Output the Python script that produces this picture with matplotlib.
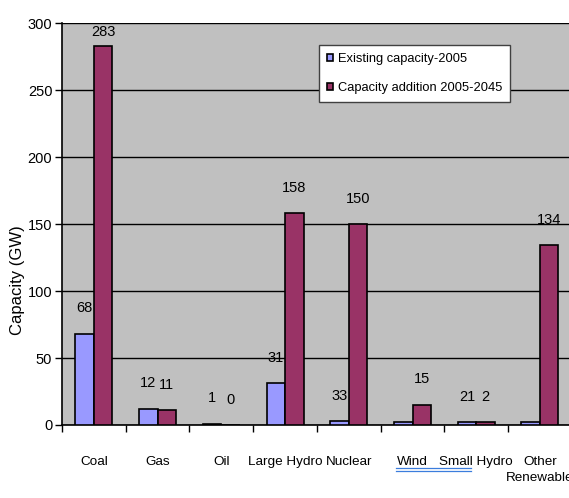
import matplotlib.pyplot as plt
import numpy as np

categories = ["Coal", "Gas", "Oil", "Large Hydro", "Nuclear", "Wind", "Small Hydro", "Other\nRenewable"]
existing_2005 = [68, 12, 1, 31, 3, 2, 2, 2]
addition_2005_2045 = [283, 11, 0, 158, 150, 15, 2, 134]
existing_labels = ["68", "12", "1", "31", "33", "", "21", ""]
addition_labels = ["283", "11", "0", "158", "150", "15", "2", "134"]
yticks = [0, 50, 100, 150, 200, 250, 300]

font = "Liberation Sans"

fig = plt.figure(figsize=(5.69, 4.98), dpi=100)
ax = fig.add_axes([0.109, 0.1466, 0.896, 0.807])
ax.set_facecolor("#C0C0C0")

x = np.arange(len(categories))
w = 0.29
ax.bar(x - w / 2, existing_2005, w, color="#9999FF", edgecolor="black", linewidth=1.2,
       label="Existing capacity-2005", zorder=3)
ax.bar(x + w / 2, addition_2005_2045, w, color="#993366", edgecolor="black", linewidth=1.2,
       label="Capacity addition 2005-2045", zorder=3)

# value labels sit a fixed distance above each bar, kept inside the plot area
for i in range(len(categories)):
    if existing_labels[i]:
        ax.text(x[i] - w / 2, min(existing_2005[i] + 19, 293), existing_labels[i],
                ha="center", va="center", fontsize=10.5, family=font)
    ax.text(x[i] + w / 2, min(addition_2005_2045[i] + 19, 293), addition_labels[i],
            ha="center", va="center", fontsize=10.5, family=font)

ax.set_xlim(-0.5, len(categories) - 0.5)
ax.set_ylim(0, 300)
ax.set_yticks(yticks)
ax.yaxis.grid(True, color="black", linewidth=1.0, zorder=0)
ax.set_axisbelow(True)

ax.set_xticks(x)
ax.set_xticklabels(categories, fontsize=9.7, family=font, va="top", linespacing=1.5)
ax.tick_params(axis="x", length=0, pad=22)
ax.set_xticks(np.arange(len(categories) + 1) - 0.5, minor=True)
ax.tick_params(axis="x", which="minor", length=5, width=1)
ax.tick_params(axis="y", length=5, width=1, labelsize=10.5, pad=2)
for lbl in ax.get_yticklabels():
    lbl.set_family(font)

for s in ["top", "right"]:
    ax.spines[s].set_visible(False)
ax.spines["left"].set_linewidth(1.2)
ax.spines["bottom"].set_linewidth(1.2)

ax.set_ylabel("Capacity (GW)", fontsize=12, family=font)
ax.yaxis.set_label_coords(-0.072, 0.36)

leg = ax.legend(loc="upper left", bbox_to_anchor=(0.504, 0.945), frameon=True, fancybox=False,
                prop={"family": font, "size": 9.3}, handlelength=0.5, handleheight=0.5,
                handletextpad=0.35, borderpad=0.6, labelspacing=1.35, borderaxespad=0)
leg.get_frame().set_edgecolor("#404040")
leg.get_frame().set_linewidth(1.0)
leg.get_frame().set_alpha(1)

# spell-check style underline under "Wind  Small"
for y_px in (468, 470.5):
    fig.add_artist(plt.Line2D([396 / 569, 471 / 569], [(498 - y_px) / 498] * 2,
                              color="#3B7DDD", linewidth=0.9))

fig.savefig("out.png", dpi=100)
